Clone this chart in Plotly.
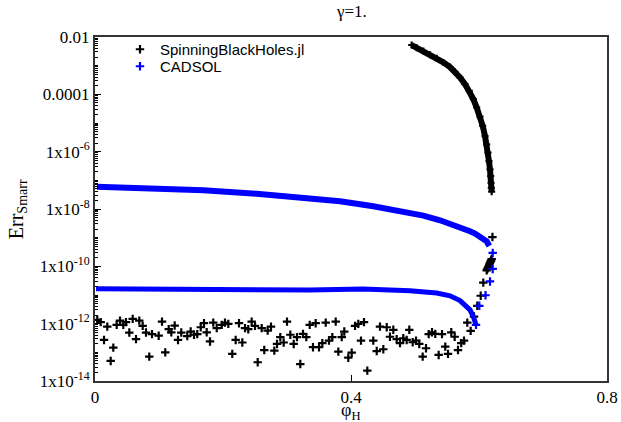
import plotly.graph_objects as go

# ---------------- data ----------------
# SpinningBlackHoles.jl : dense upper branch
sbh_branch_x = [0.4948, 0.5027, 0.5130, 0.5234, 0.5339, 0.5442, 0.5547, 0.5625, 0.5703,
                0.5781, 0.5848, 0.5911, 0.5964, 0.6016, 0.6058, 0.6094, 0.6120, 0.6141,
                0.6156, 0.6172, 0.6183, 0.6188, 0.6192, 0.6198]
sbh_branch_y = [5.25e-3, 4.23e-3, 3.24e-3, 2.40e-3, 1.80e-3, 1.30e-3, 8.9e-4, 6.1e-4, 3.9e-4,
                2.27e-4, 1.32e-4, 6.8e-5, 3.47e-5, 1.68e-5, 7.9e-6, 3.5e-6, 1.80e-6, 9.2e-7,
                4.7e-7, 2.40e-7, 1.40e-7, 8.2e-8, 5.5e-8, 4.0e-8]

# SpinningBlackHoles.jl : scattered points
sbh_x = [0.0036, 0.0089, 0.0141, 0.0192, 0.0245, 0.0286, 0.0339, 0.0391, 0.0442, 0.0484,
         0.0536, 0.0589, 0.0641, 0.0692, 0.0745, 0.0797, 0.0848, 0.0891, 0.0995, 0.1047,
         0.1098, 0.1152, 0.1192, 0.1245, 0.1297, 0.1348, 0.1442, 0.1495, 0.1547, 0.1598,
         0.1652, 0.1703, 0.1745, 0.1797, 0.1848, 0.1902, 0.1980, 0.2031, 0.2083, 0.2145,
         0.2198, 0.2250, 0.2302, 0.2344, 0.2395, 0.2448, 0.2500, 0.2542, 0.2605, 0.2645,
         0.2698, 0.2750, 0.2802, 0.2844, 0.2895, 0.2948, 0.3000, 0.3052, 0.3105, 0.3156,
         0.3208, 0.3250, 0.3302, 0.3355, 0.3406, 0.3448, 0.3500, 0.3552, 0.3605, 0.3656,
         0.3708, 0.3761, 0.3802, 0.3855, 0.3895, 0.3958, 0.4011, 0.4063, 0.4114, 0.4156,
         0.4203, 0.4255, 0.4348, 0.4402, 0.4453, 0.4505, 0.4558, 0.4609, 0.4661, 0.4714,
         0.4766, 0.4817, 0.4870, 0.4911, 0.4964, 0.5016, 0.5067, 0.5120, 0.5172, 0.5214,
         0.5266, 0.5317, 0.5370, 0.5422, 0.5473, 0.5516, 0.5567, 0.5620, 0.5672, 0.5723,
         0.5766, 0.5817, 0.5870, 0.5922, 0.5973, 0.6027, 0.6067,
         0.6120, 0.6130, 0.6140, 0.6150, 0.6160, 0.6170, 0.6180, 0.6190, 0.6198, 0.6210]
sbh_y = [1.35e-12, 1.13e-12, 2.7e-13, 7.9e-13, 5.0e-14, 1.46e-13, 9.1e-13, 1.28e-12, 9.1e-13, 1.13e-12,
         4.9e-13, 1.47e-12, 2.9e-13, 1.28e-12, 8.4e-13, 4.9e-13, 7.1e-14, 4.3e-13, 3.8e-13, 1.18e-12,
         1.0e-13, 6.4e-13, 5.0e-13, 8.6e-13, 2.7e-13, 4.9e-13, 3.7e-13, 5.3e-13, 4.1e-13, 4.3e-13,
         7.5e-13, 1.04e-12, 5.0e-13, 2.4e-13, 1.09e-12, 7.0e-13, 9.1e-13, 1.09e-12, 9.8e-13, 8.8e-14,
         2.7e-13, 1.04e-12, 2.2e-13, 7.0e-13, 6.4e-13, 1.18e-12, 8.4e-13, 4.5e-14, 7.0e-13, 1.2e-13,
         5.7e-13, 7.9e-13, 1.15e-13, 1.96e-13, 3.4e-13, 2.2e-13, 1.18e-12, 4.1e-13, 1.96e-13, 3.4e-13,
         3.9e-14, 4.4e-13, 3.4e-13, 9.1e-13, 1.51e-13, 1.04e-12, 1.51e-13, 2.1e-13, 1.09e-12, 2.56e-13,
         3.4e-13, 1.18e-12, 1.06e-13, 3.4e-13, 5.3e-13, 6.5e-14, 9.7e-14, 8.4e-13, 9.8e-13, 2.56e-13,
         1.13e-12, 2.3e-14, 2.56e-13, 1.11e-13, 7.9e-13, 1.28e-13, 7.5e-13, 3.5e-13, 6.1e-13, 2.9e-13,
         2.1e-13, 3.1e-13, 2.7e-13, 6.1e-13, 2.25e-13, 2.56e-13, 1.96e-13, 7.1e-14, 1.39e-13, 4.3e-13,
         5.0e-13, 4.4e-13, 8.1e-14, 4.3e-13, 1.58e-13, 8.8e-14, 5.0e-13, 3.5e-13, 1.2e-13, 2.1e-13,
         2.56e-13, 1.09e-12, 5.6e-13, 1.77e-12, 4.2e-12, 9.4e-12, 2.7e-11,
         7.2e-11, 8.0e-11, 9.0e-11, 1.0e-10, 1.15e-10, 1.3e-10, 1.45e-10, 1.6e-10, 1.8e-10, 1.05e-9]

# CADSOL : upper branch
cad_up_x = [0.0031, 0.0859, 0.1692, 0.2527, 0.3255, 0.3828, 0.4348, 0.4870, 0.5130, 0.5391,
            0.5652, 0.5750, 0.5859, 0.5938, 0.6016, 0.6078, 0.6120, 0.6161]
cad_up_y = [5.97e-8, 5.5e-8, 4.54e-8, 3.40e-8, 2.46e-8, 1.87e-8, 1.25e-8, 7.7e-9, 5.9e-9, 4.05e-9,
            2.64e-9, 2.16e-9, 1.67e-9, 1.39e-9, 1.12e-9, 8.9e-10, 7.5e-10, 5.1e-10]

# CADSOL : lower branch
cad_lo_x = [0.0016, 0.0859, 0.1641, 0.2578, 0.3359, 0.4188, 0.4922, 0.5339, 0.5547, 0.5703,
            0.5808, 0.5859, 0.5911, 0.5953]
cad_lo_y = [1.65e-11, 1.6e-11, 1.55e-11, 1.5e-11, 1.5e-11, 1.61e-11, 1.41e-11, 1.17e-11, 9.4e-12, 6.4e-12,
            3.96e-12, 3.04e-12, 1.77e-12, 9.1e-13]

# CADSOL : isolated points joining the branches
cad_x = [0.6214, 0.6214, 0.6172, 0.6102, 0.6005, 0.5953]
cad_y = [2.93e-10, 8.1e-11, 2.97e-11, 9.8e-12, 4.2e-12, 9.1e-13]

x_tickvals = [0, 0.4, 0.8]
x_ticktext = ["0", "0.4", "0.8"]
y_tickvals = [1e-2, 1e-4, 1e-6, 1e-8, 1e-10, 1e-12, 1e-14]
y_ticktext = ["0.01", "0.0001", "1x10<sup>-6</sup>", "1x10<sup>-8</sup>",
              "1x10<sup>-10</sup>", "1x10<sup>-12</sup>", "1x10<sup>-14</sup>"]

BLACK = "#000000"
BLUE = "#0000ff"
SERIF = "Liberation Serif, Times New Roman, serif"
SANS = "Liberation Sans, Arial, sans-serif"

def cross(color, size=6):
    return dict(symbol="cross-thin", size=size, color=color, line=dict(color=color, width=2.2))

fig = go.Figure()
fig.add_trace(go.Scatter(x=sbh_x, y=sbh_y, mode="markers", name="SpinningBlackHoles.jl",
                         marker=cross(BLACK), legend="legend"))
fig.add_trace(go.Scatter(x=sbh_branch_x, y=sbh_branch_y, mode="lines+markers", showlegend=False,
                         line=dict(color=BLACK, width=6), marker=cross(BLACK, 5)))
fig.add_trace(go.Scatter(x=cad_x, y=cad_y, mode="markers", name="CADSOL",
                         marker=cross(BLUE), legend="legend2"))
fig.add_trace(go.Scatter(x=cad_up_x, y=cad_up_y, mode="lines", showlegend=False,
                         line=dict(color=BLUE, width=6)))
fig.add_trace(go.Scatter(x=cad_lo_x, y=cad_lo_y, mode="lines", showlegend=False,
                         line=dict(color=BLUE, width=5)))

legend_common = dict(xanchor="left", yanchor="top", bgcolor="rgba(0,0,0,0)",
                     font=dict(family=SANS, size=15, color=BLACK))

fig.update_layout(
    width=621, height=422,
    margin=dict(l=95, r=14, t=37, b=41, autoexpand=False),
    paper_bgcolor="white", plot_bgcolor="white",
    showlegend=True,
    legend=dict(x=0.0488, y=1.0116, **legend_common),
    legend2=dict(x=0.0488, y=0.9622, **legend_common),
    xaxis=dict(range=[0, 0.8], tickvals=x_tickvals, ticktext=x_ticktext, automargin=False,
               ticks="inside", ticklen=6, tickcolor=BLACK, showgrid=False, zeroline=False,
               showline=True, linecolor="#333333", linewidth=2, mirror=True,
               tickfont=dict(family=SERIF, size=17, color=BLACK)),
    yaxis=dict(type="log", range=[-14, -2], tickvals=y_tickvals, ticktext=y_ticktext,
               automargin=False,
               ticks="inside", ticklen=6, tickcolor=BLACK, showgrid=False, zeroline=False,
               showline=True, linecolor="#333333", linewidth=2, mirror=True,
               tickfont=dict(family=SERIF, size=17, color=BLACK),
               minor=dict(ticks="inside", ticklen=3, dtick="D1", tickcolor=BLACK)),
    annotations=[
        dict(text="γ=1.", x=0.5, y=1.0727, xref="paper", yref="paper", showarrow=False,
             xanchor="center", yanchor="middle", font=dict(family=SERIF, size=17, color=BLACK)),
        dict(text="φ<sub>H</sub>", x=0.5, y=-0.088, xref="paper", yref="paper", showarrow=False,
             xanchor="center", yanchor="middle", font=dict(family=SERIF, size=18, color=BLACK)),
        dict(text="Err<sub>Smarr</sub>", x=-0.152, y=0.5, xref="paper", yref="paper",
             showarrow=False, textangle=-90, xanchor="center", yanchor="middle",
             font=dict(family=SERIF, size=20, color=BLACK)),
    ],
)

# remove the browser's default 8 px page margin so the figure fills the window
fig.write_html("out.html", config={"displayModeBar": False},
               post_script="document.body.style.margin='0px';")
